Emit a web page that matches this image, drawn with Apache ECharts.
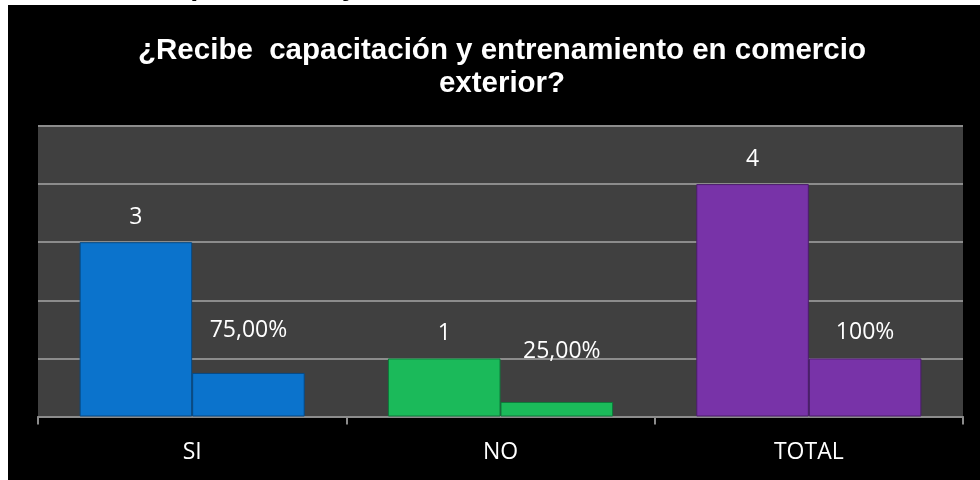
<!DOCTYPE html>
<html>
<head>
<meta charset="utf-8">
<script src="https://cdn.jsdelivr.net/npm/echarts@6/dist/echarts.min.js"></script>
<style>
html,body{margin:0;padding:0;background:#ffffff;}
#c{width:980px;height:480px;}
</style>
</head>
<body>
<div id="c"></div>
<script>
// ---- data ----
const categories = ['SI', 'NO', 'TOTAL'];
const counts = [3, 1, 4];
const shares = [0.75, 0.25, 1];
const shareLabels = ['75,00%', '25,00%', '100%'];
const titleLines = ['¿Recibe  capacitación y entrenamiento en comercio', 'exterior?'];
const headingFragment = 'capacitación y';

// ---- styles ----
const palette = ['#0B73CC', '#1BBA5A', '#7833A8'];
const borders = ['#064a85', '#0d7a3a', '#4a1d6b'];
const shareLabelDistance = [31, 39, 14];
const shareLabelShift = [0, 5, 0];
const labelFont = '"Open Sans", "Noto Sans", sans-serif';
const titleFont = 'bold 29.5px "Liberation Sans", Arial, sans-serif';

const chart = echarts.init(document.getElementById('c'), null, {renderer: 'canvas'});

const option = {
  animation: false,
  backgroundColor: 'transparent',
  graphic: [
    {
      type: 'text', z: -200, left: 158, top: -27.5,
      style: {text: headingFragment, fill: '#000', font: 'bold 29px "Liberation Sans", Arial, sans-serif'}
    },
    {
      type: 'rect', z: -100, shape: {x: 8, y: 5, width: 972, height: 475},
      style: {fill: '#000000'}
    },
    {
      type: 'text', z: 10, x: 502, y: 51,
      style: {text: titleLines[0], fill: '#ffffff', align: 'center', verticalAlign: 'middle', font: titleFont}
    },
    {
      type: 'text', z: 10, x: 502, y: 84,
      style: {text: titleLines[1], fill: '#ffffff', align: 'center', verticalAlign: 'middle', font: titleFont}
    }
  ],
  grid: {
    left: 38, right: 17, top: 126, bottom: 63.5,
    show: true, backgroundColor: '#404040', borderWidth: 0, containLabel: false
  },
  xAxis: {
    type: 'category',
    data: categories,
    axisLine: {show: true, lineStyle: {color: '#8c8c8c', width: 2}},
    axisTick: {show: true, alignWithLabel: false, length: 8, lineStyle: {color: '#8c8c8c', width: 2}},
    axisLabel: {color: '#ffffff', fontSize: 23, fontFamily: labelFont, margin: 24}
  },
  yAxis: {
    type: 'value', min: 0, max: 5, interval: 1,
    axisLine: {show: false}, axisTick: {show: false}, axisLabel: {show: false},
    splitLine: {show: true, lineStyle: {color: '#8c8c8c', width: 2}}
  },
  series: [
    {
      type: 'bar',
      barGap: '0%',
      barCategoryGap: '27%',
      data: counts.map((v, i) => ({value: v, itemStyle: {color: palette[i], borderColor: borders[i], borderWidth: 1}})),
      label: {show: true, position: 'top', distance: 13, color: '#ffffff', fontSize: 23, fontFamily: labelFont}
    },
    {
      type: 'bar',
      barGap: '0%',
      barCategoryGap: '27%',
      data: shares.map((v, i) => ({
        value: v,
        itemStyle: {color: palette[i], borderColor: borders[i], borderWidth: 1},
        label: {distance: shareLabelDistance[i], offset: [shareLabelShift[i], 0], formatter: shareLabels[i]}
      })),
      label: {show: true, position: 'top', color: '#ffffff', fontSize: 23, fontFamily: labelFont}
    }
  ]
};
chart.setOption(option);
</script>
</body>
</html>
